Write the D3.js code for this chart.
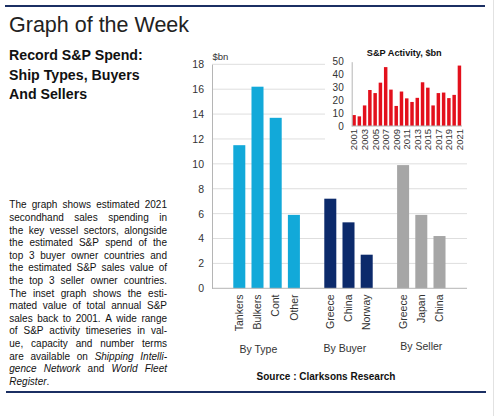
<!DOCTYPE html>
<html><head><meta charset="utf-8">
<script src="https://cdn.jsdelivr.net/npm/d3@7"></script>
<style>
html,body{margin:0;padding:0;background:#fff;}
svg{display:block;font-family:"Liberation Sans",Arial,Helvetica,sans-serif;}
</style></head>
<body>
<script>
// ---------- data ----------
const typeCats = ["Tankers", "Bulkers", "Cont", "Other"];
const typeVals = [11.5, 16.2, 13.7, 5.9];
const buyerCats = ["Greece", "China", "Norway"];
const buyerVals = [7.2, 5.3, 2.7];
const sellerCats = ["Greece", "Japan", "China"];
const sellerVals = [9.9, 5.9, 4.2];
const groupLabels = ["By Type", "By Buyer", "By Seller"];
const mainTicks = [0, 2, 4, 6, 8, 10, 12, 14, 16, 18];

const insetYears = [2001,2002,2003,2004,2005,2006,2007,2008,2009,2010,2011,2012,2013,2014,2015,2016,2017,2018,2019,2020,2021];
const insetVals = [8.5,7.5,16,28,25.6,33.7,45.8,28.3,15.6,26.8,21.5,18.7,21.9,34,29.8,16,25.6,26,21.7,24.2,47];
const insetTicks = [0, 10, 20, 30, 40, 50];
const insetTickYears = [2001,2003,2005,2007,2009,2011,2013,2015,2017,2019,2021];

const titleText = "Graph of the Week";
const subtitleLines = ["Record S&P Spend:", "Ship Types, Buyers", "And Sellers"];
const sourceText = "Source : Clarksons Research";
const insetTitle = "S&P Activity, $bn";
const unitLabel = "$bn";
// body text: each line is list of words; a word is a list of [text, italic] pieces
const bodyLines = [
  "The graph shows estimated 2021",
  "secondhand sales spending in",
  "the key vessel sectors, alongside",
  "the estimated S&P spend of the",
  "top 3 buyer owner countries and",
  "the estimated S&P sales value of",
  "the top 3 seller owner countries.",
  "The inset graph shows the esti-",
  "mated value of total annual S&P",
  "sales back to 2001. A wide range",
  "of S&P activity timeseries in val-",
  "ue, capacity and number terms",
  "are available on *Shipping* *Intelli-*",
  "*gence* *Network* and *World* *Fleet*",
  "*Register*."
];

// ---------- build ----------
const W = 496, H = 416;
const svg = d3.select("body").append("svg").attr("width", W).attr("height", H);

const navy = "#1b2f63";
const cCyan = "#12a9d9", cNavy = "#0c2a6b", cGray = "#a6a6a6", cRed = "#e3101c";

// frame rules
svg.append("line").attr("x1", 5).attr("x2", 485).attr("y1", 6).attr("y2", 6)
  .attr("stroke", navy).attr("stroke-width", 2.2);
svg.append("line").attr("x1", 6).attr("x2", 486).attr("y1", 392).attr("y2", 392)
  .attr("stroke", navy).attr("stroke-width", 2.2);
svg.append("line").attr("x1", 493.5).attr("x2", 493.5).attr("y1", 0).attr("y2", H)
  .attr("stroke", "#e2e2e2").attr("stroke-width", 1);

// title
svg.append("text").attr("x", 9).attr("y", 31.5).attr("font-size", 21.5)
  .attr("fill", "#222").attr("font-weight", 300).text(titleText);

// subtitle
svg.append("g").selectAll("text").data(subtitleLines).join("text")
  .attr("x", 9).attr("y", (d, i) => 60 + i * 19.6)
  .attr("font-size", 14.2).attr("font-weight", "bold").attr("fill", "#111")
  .text(d => d);

// body text, justified
const bodyG = svg.append("g").attr("font-size", 10).attr("fill", "#111");
const bodyLeft = 9.3, bodyRight = 167, bodyTop = 208.3, bodyStep = 12.6;
function parseWord(w) {
  const pieces = [];
  const re = /\*([^*]+)\*|([^*]+)/g; let m;
  while ((m = re.exec(w)) !== null) {
    if (m[1] !== undefined) pieces.push([m[1], true]); else pieces.push([m[2], false]);
  }
  return pieces;
}
bodyLines.forEach((line, li) => {
  const words = line.split(" ");
  const y = bodyTop + li * bodyStep;
  const nodes = words.map(w => {
    const t = bodyG.append("text").attr("y", y);
    parseWord(w).forEach(p => {
      t.append("tspan").attr("font-style", p[1] ? "italic" : "normal").text(p[0]);
    });
    return t;
  });
  const widths = nodes.map(n => n.node().getComputedTextLength());
  const total = d3.sum(widths);
  const isLast = li === bodyLines.length - 1;
  const gap = isLast ? 2.78 : (bodyRight - bodyLeft - total) / (words.length - 1);
  let x = bodyLeft;
  nodes.forEach((n, i) => { n.attr("x", x); x += widths[i] + gap; });
});

// ---------- main chart ----------
const slots = [];
const bars = [];
function addGroup(cats, vals, color, gi) {
  slots.push("gap" + gi);
  cats.forEach((c, i) => {
    const id = gi + "-" + c;
    slots.push(id);
    bars.push({ id, cat: c, val: vals[i], color, group: gi });
  });
}
addGroup(typeCats, typeVals, cCyan, 0);
addGroup(buyerCats, buyerVals, cNavy, 1);
addGroup(sellerCats, sellerVals, cGray, 2);
slots.push("gapEnd");

const x = d3.scaleBand().domain(slots).range([212, 466.8]).paddingInner(0.34).paddingOuter(0.17);
const y = d3.scaleLinear().domain([0, 18]).range([288.3, 64.3]);

// gridlines
svg.append("g").selectAll("line").data(mainTicks.filter(t => t > 0)).join("line")
  .attr("x1", 212).attr("x2", 467).attr("y1", d => y(d)).attr("y2", d => y(d))
  .attr("stroke", "#dedede").attr("stroke-width", 1);

// y axis
const yAxis = svg.append("g").attr("transform", "translate(212,0)")
  .call(d3.axisLeft(y).tickValues(mainTicks).tickSize(0).tickPadding(8));
yAxis.select(".domain").attr("stroke", "#b5b5b5");
yAxis.selectAll("text").attr("font-size", 10.5).attr("fill", "#333")
  .attr("font-family", "Liberation Sans, Arial, sans-serif");

svg.append("text").attr("x", 212.5).attr("y", 60).attr("font-size", 9.5)
  .attr("fill", "#333").text(unitLabel);

// bars
svg.append("g").selectAll("rect").data(bars).join("rect")
  .attr("x", d => x(d.id)).attr("width", x.bandwidth())
  .attr("y", d => y(d.val)).attr("height", d => y(0) - y(d.val))
  .attr("fill", d => d.color);

// x axis line
svg.append("line").attr("x1", 212).attr("x2", 467).attr("y1", y(0)).attr("y2", y(0))
  .attr("stroke", "#b5b5b5");

// category labels
svg.append("g").selectAll("text").data(bars).join("text")
  .attr("transform", d => `translate(${x(d.id) + x.bandwidth() / 2},294.5) rotate(-90)`)
  .attr("text-anchor", "end").attr("dy", "0.36em")
  .attr("font-size", 10.5).attr("fill", "#333").text(d => d.cat);

// group labels (centred on the group's slot span)
const groupSpan = [[0, 4.1], [5, 8.6], [10, 12]];
const slotCenter = i => x.range()[0] + x.step() * (x.paddingOuter() + i) + x.bandwidth() / 2;
const groupY = [352.5, 352, 349.5];
svg.append("g").selectAll("text").data(groupLabels).join("text")
  .attr("x", (d, i) => (slotCenter(groupSpan[i][0]) + slotCenter(groupSpan[i][1])) / 2)
  .attr("y", (d, i) => groupY[i])
  .attr("text-anchor", "middle").attr("font-size", 10.5).attr("fill", "#333").text(d => d);

// source
svg.append("text").attr("x", 326).attr("y", 380).attr("text-anchor", "middle")
  .attr("font-size", 10).attr("font-weight", "bold").attr("fill", "#111").text(sourceText);

// ---------- inset ----------
svg.append("rect").attr("x", 325).attr("y", 42).attr("width", 148).attr("height", 114).attr("fill", "#fff");

const xi = d3.scaleBand().domain(insetYears).range([351.7, 461.8]).paddingInner(0.34).paddingOuter(0.12);
const yi = d3.scaleLinear().domain([0, 50]).range([126, 61.7]);

svg.append("text").attr("x", 404.3).attr("y", 56).attr("text-anchor", "middle")
  .attr("font-size", 9.2).attr("font-weight", "bold").attr("fill", "#111").text(insetTitle);

svg.append("g").selectAll("rect").data(insetYears).join("rect")
  .attr("x", d => xi(d)).attr("width", xi.bandwidth())
  .attr("y", (d, i) => yi(insetVals[i])).attr("height", (d, i) => yi(0) - yi(insetVals[i]))
  .attr("fill", cRed);

const yiAxis = svg.append("g").attr("transform", "translate(351.7,0)")
  .call(d3.axisLeft(yi).tickValues(insetTicks).tickSize(0).tickPadding(8));
yiAxis.select(".domain").attr("stroke", "#b5b5b5");
yiAxis.selectAll("text").attr("font-size", 10).attr("fill", "#333")
  .attr("font-family", "Liberation Sans, Arial, sans-serif");

svg.append("line").attr("x1", 351.7).attr("x2", 462).attr("y1", yi(0)).attr("y2", yi(0))
  .attr("stroke", "#b5b5b5");

svg.append("g").selectAll("text").data(insetTickYears).join("text")
  .attr("transform", d => `translate(${xi(d) + xi.bandwidth() / 2},129) rotate(-90)`)
  .attr("text-anchor", "end").attr("dy", "0.36em")
  .attr("font-size", 9.5).attr("fill", "#333").text(d => d);
</script>
</body></html>
